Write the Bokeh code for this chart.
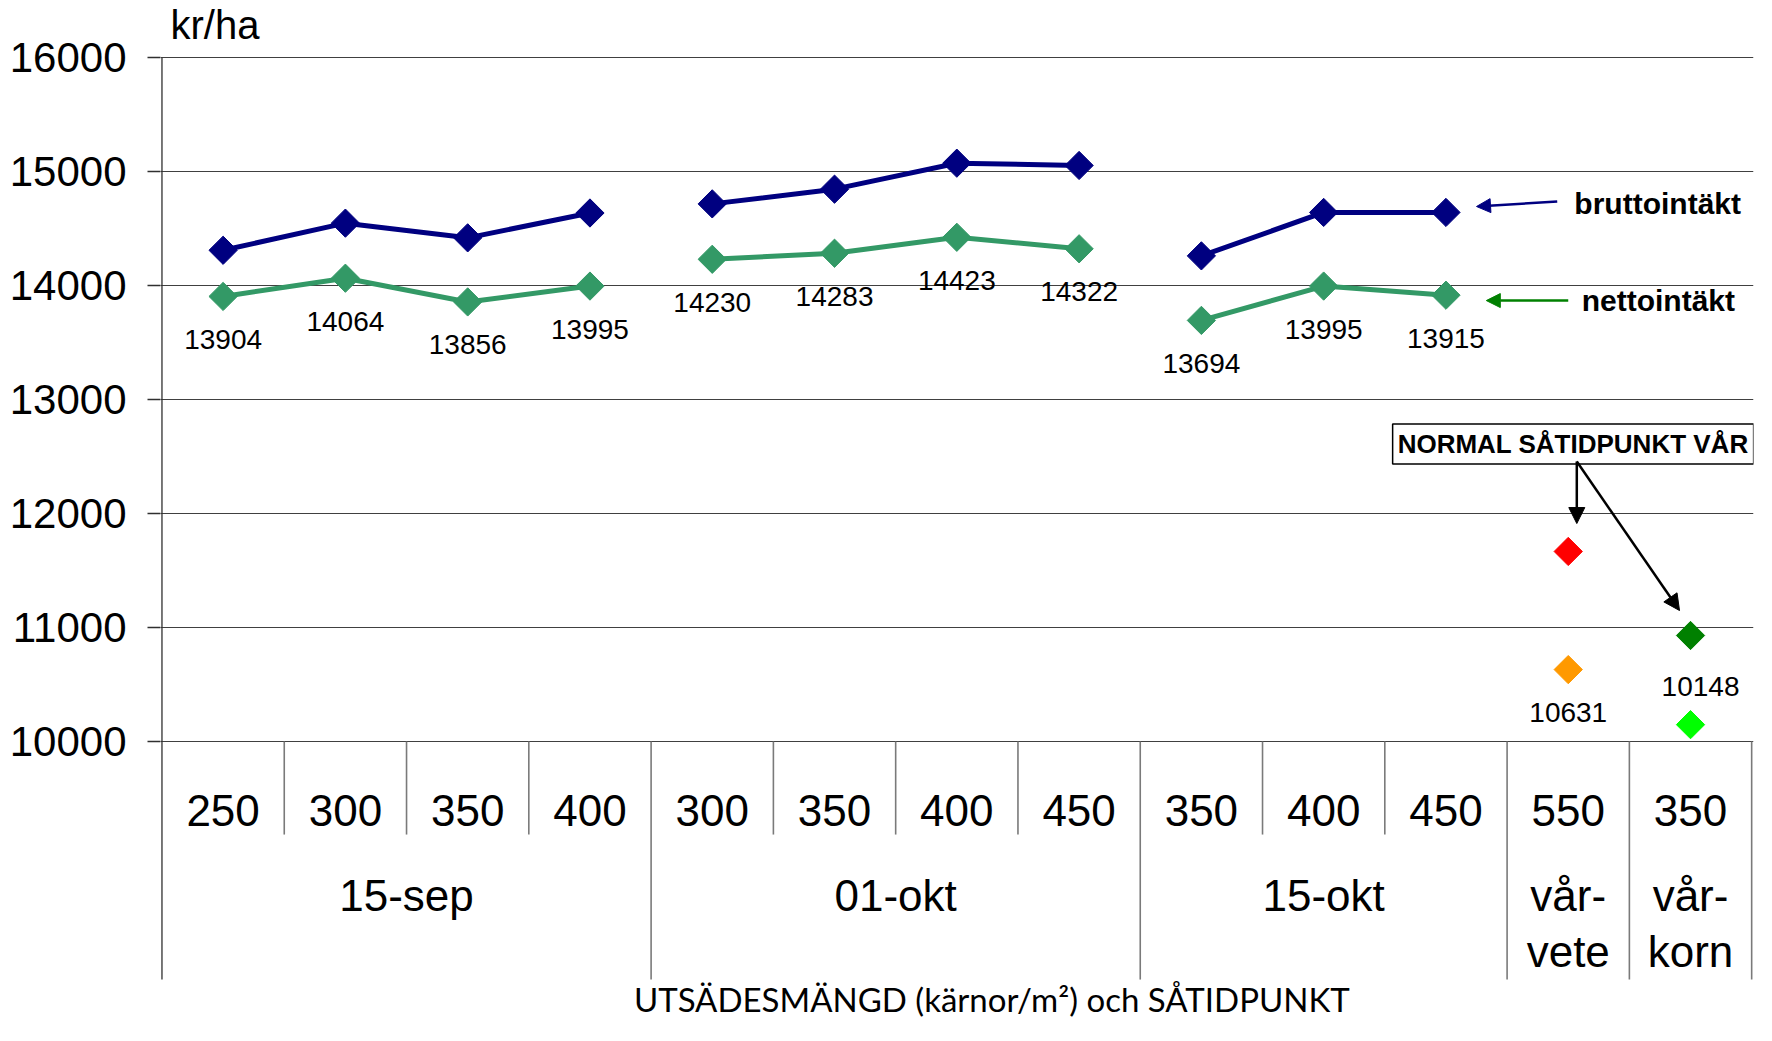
import numpy as np
from bokeh.plotting import figure
from bokeh.models import Range1d, FixedTicker, Label, Arrow, NormalHead
from bokeh.embed import file_html
from bokeh.resources import INLINE
from bokeh.core.properties import value

# ---------------- data ----------------
seed_rates = ["250", "300", "350", "400", "300", "350", "400", "450",
              "350", "400", "450", "550", "350"]
group_names = ["15-sep", "01-okt", "15-okt", "vår-\nvete", "vår-\nkorn"]
group_sizes = [4, 4, 3, 1, 1]
brutto = [14309, 14547, 14418, 14636, 14716, 14845, 15073, 15053, 14260, 14641, 14641]
netto = [13904, 14064, 13856, 13995, 14230, 14283, 14423, 14322, 13694, 13995, 13915]
spring_wheat_brutto = 11667
spring_wheat_netto = 10631
spring_barley_brutto = 10930
spring_barley_netto = 10148
y_ticks = [10000, 11000, 12000, 13000, 14000, 15000, 16000]
y_unit = "kr/ha"
x_title = "UTSÄDESMÄNGD (kärnor/m²) och SÅTIDPUNKT"
series_names = ["bruttointäkt", "nettointäkt"]
note = "NORMAL SÅTIDPUNKT VÅR"

BLUE = "#000080"
GREEN = "#339966"
FONT = "Liberation Sans"

n_cat = len(seed_rates)
x_centers = np.arange(n_cat) + 0.5
bounds = np.cumsum([0] + group_sizes)

# vertical layout (data units; the frame fills the full canvas height)
Y_MIN, Y_MAX = 7509, 16500
AXIS_BOTTOM = 7912          # bottom of category separators / axis line
TICK_ROW = 9395
GROUP_ROWS = [8649, 8160]
INNER_SEP_END = 9184
UNIT_ROW = 16281
TITLE_ROW = 7745

p = figure(width=1756, height=1025, x_range=Range1d(-0.012, n_cat + 0.015),
           y_range=Range1d(Y_MIN, Y_MAX), output_backend="svg",
           toolbar_location=None, min_border_left=160, min_border_right=3,
           min_border_top=0, min_border_bottom=0)
p.outline_line_color = None
p.xaxis.visible = False
p.xgrid.visible = False

p.yaxis.ticker = FixedTicker(ticks=y_ticks)
p.yaxis.major_label_text_font = FONT
p.yaxis.major_label_text_font_size = "42px"
p.yaxis.major_label_text_color = "black"
p.yaxis.axis_line_color = None
p.yaxis.major_tick_line_color = "#303030"
p.yaxis.major_tick_line_width = 1.3
p.yaxis.major_tick_out = 13
p.yaxis.major_tick_in = 0
p.yaxis.minor_tick_line_color = None
p.yaxis.major_label_standoff = 21

p.ygrid.ticker = FixedTicker(ticks=y_ticks)
p.ygrid.grid_line_color = "#404040"
p.ygrid.grid_line_width = 1.2

# value axis line (16000 down to the bottom of the category area)
p.segment(x0=[0], y0=[y_ticks[-1]], x1=[0], y1=[AXIS_BOTTOM],
          line_color="#303030", line_width=1.3)

# separators of the category axis
inner_b = [b for b in range(1, n_cat) if b not in bounds]
p.segment(x0=inner_b, y0=[y_ticks[0]] * len(inner_b), x1=inner_b,
          y1=[INNER_SEP_END] * len(inner_b), line_color="#7a7a7a", line_width=1.6)
outer_b = list(bounds[1:])
p.segment(x0=outer_b, y0=[y_ticks[0]] * len(outer_b), x1=outer_b,
          y1=[AXIS_BOTTOM] * len(outer_b), line_color="#7a7a7a", line_width=1.6)

# category labels
p.text(x=x_centers, y=[TICK_ROW] * n_cat, text=seed_rates, text_align="center",
       text_baseline="middle", text_font=value(FONT), text_font_size="44px",
       text_color="black")
for gi, name in enumerate(group_names):
    cx = (bounds[gi] + bounds[gi + 1]) / 2
    for li, line in enumerate(name.split("\n")):
        p.text(x=[cx], y=[GROUP_ROWS[li]], text=[line], text_align="center",
               text_baseline="middle", text_font=value(FONT),
               text_font_size="44px", text_color="black")

# series lines
idx = 0
autumn_x = []
for g in range(3):
    n = group_sizes[g]
    xs = x_centers[bounds[g]:bounds[g] + n]
    autumn_x.extend(xs)
    p.line(xs, brutto[idx:idx + n], line_color=BLUE, line_width=5)
    p.line(xs, netto[idx:idx + n], line_color=GREEN, line_width=5)
    idx += n

MK = dict(marker="square", angle=np.pi / 4, size=20)
p.scatter(autumn_x, brutto, color=BLUE, **MK)
p.scatter(autumn_x, netto, color=GREEN, **MK)

p.text(x=autumn_x, y=netto, text=[str(v) for v in netto], y_offset=43,
       text_align="center", text_baseline="middle", text_font=value(FONT),
       text_font_size="28px", text_color="black")

# spring crops
xw, xb = x_centers[bounds[3]], x_centers[bounds[4]]
p.scatter([xw], [spring_wheat_brutto], color="#FF0000", **MK)
p.scatter([xw], [spring_wheat_netto], color="#FF9900", **MK)
p.scatter([xb], [spring_barley_brutto], color="#008000", **MK)
p.scatter([xb], [spring_barley_netto], color="#00FF00", **MK)
p.text(x=[xw], y=[spring_wheat_netto], text=[str(spring_wheat_netto)], y_offset=43,
       text_align="center", text_baseline="middle", text_font=value(FONT),
       text_font_size="28px", text_color="black")
p.text(x=[xb], y=[spring_barley_netto], text=[str(spring_barley_netto)], y_offset=-38,
       x_offset=10, text_align="center", text_baseline="middle",
       text_font=value(FONT), text_font_size="28px", text_color="black")

# series annotations
last_x = autumn_x[-1]
p.add_layout(Arrow(end=NormalHead(size=14, fill_color=BLUE, line_color=BLUE),
                   x_start=last_x + 0.91, y_start=brutto[-1] + 96,
                   x_end=last_x + 0.25, y_end=brutto[-1] + 52,
                   line_color=BLUE, line_width=2.5))
p.add_layout(Label(x=last_x + 1.05, y=brutto[-1] + 78, text=series_names[0],
                   text_font=FONT, text_font_style="bold", text_font_size="30px",
                   text_align="left", text_baseline="middle", text_color="black"))
p.add_layout(Arrow(end=NormalHead(size=14, fill_color="#008000", line_color="#008000"),
                   x_start=last_x + 1.0, y_start=netto[-1] - 47,
                   x_end=last_x + 0.33, y_end=netto[-1] - 47,
                   line_color="#008000", line_width=2.5))
p.add_layout(Label(x=last_x + 1.11, y=netto[-1] - 47, text=series_names[1],
                   text_font=FONT, text_font_style="bold", text_font_size="30px",
                   text_align="left", text_baseline="middle", text_color="black"))

# note box and arrows
p.add_layout(Label(x=xw + 0.04, y=12610, text=note, text_font=FONT,
                   text_font_style="bold", text_font_size="26px",
                   text_align="center", text_baseline="middle", text_color="black",
                   border_line_color="black", border_line_width=1.5,
                   background_fill_color="white", padding=5))
p.add_layout(Arrow(end=NormalHead(size=16, fill_color="black", line_color="black"),
                   x_start=xw + 0.07, y_start=12456, x_end=xw + 0.07,
                   y_end=spring_wheat_brutto + 245, line_color="black", line_width=2.5))
p.add_layout(Arrow(end=NormalHead(size=16, fill_color="black", line_color="black"),
                   x_start=xw + 0.07, y_start=12456, x_end=xb - 0.09,
                   y_end=spring_barley_brutto + 219, line_color="black", line_width=2.5))

# unit label (top-left) and category-axis title (bottom)
p.add_layout(Label(x=0.07, y=UNIT_ROW, text=y_unit, text_font=FONT,
                   text_font_size="40px", text_align="left",
                   text_baseline="middle", text_color="black"))
p.add_layout(Label(x=3.86, y=TITLE_ROW, text=x_title, text_font="Lato",
                   text_font_size="33px", text_align="left",
                   text_baseline="middle", text_color="black"))

open("out.html", "w").write(file_html(p, INLINE))
